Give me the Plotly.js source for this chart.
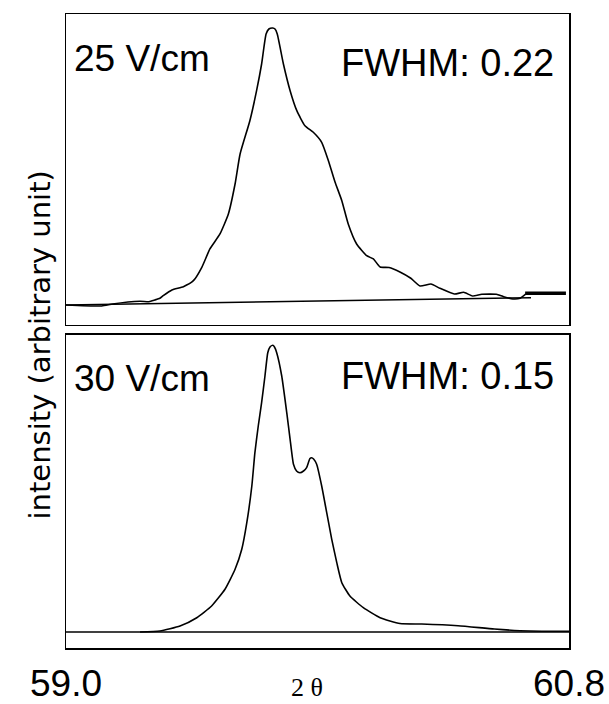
<!DOCTYPE html>
<html>
<head>
<meta charset="utf-8">
<script src="https://cdn.plot.ly/plotly-3.0.1.min.js"></script>
<style>
  html, body { margin: 0; padding: 0; background: #ffffff; }
  #chart { width: 609px; height: 704px; }
</style>
</head>
<body>
<div id="chart"></div>
<script>
// ---- data (2θ in degrees, intensity in arbitrary units) ----
var topTheta = [59.000, 59.128, 59.167, 59.265, 59.297, 59.318, 59.336, 59.348, 59.379, 59.420,
  59.456, 59.486, 59.515, 59.551, 59.581, 59.605, 59.623, 59.658, 59.682, 59.700,
  59.716, 59.726, 59.740, 59.748, 59.756, 59.778, 59.802, 59.826, 59.855, 59.885,
  59.915, 59.939, 59.963, 59.987, 60.010, 60.040, 60.076, 60.100, 60.124, 60.156,
  60.195, 60.234, 60.267, 60.306, 60.338, 60.390, 60.423, 60.455, 60.488, 60.540,
  60.566, 60.599, 60.625, 60.646];
var topIntensity = [0, -1, 1, 3.7, 3.3, 5, 6.7, 9.3, 15, 18.3,
  24.3, 37.7, 56, 71, 91, 121, 151, 184.3, 214.3, 241,
  271, 276, 277, 276, 271, 241, 214.3, 194.3, 179.3, 172.7,
  162.7, 144.3, 122.7, 104.3, 81, 61, 49.3, 46, 38, 37.5,
  33, 26.7, 19, 21, 16.7, 11, 12.7, 9, 10.7, 10.7,
  8.3, 6, 6.7, 11];
var topBaseTheta = [59.000, 60.664];
var topBaseIntensity = [0, 7.3];
var topMarkTheta = [60.643, 60.789];
var topMarkIntensity = [11.7, 11.7];

var botTheta = [59.265, 59.336, 59.408, 59.468, 59.521, 59.569, 59.605, 59.629, 59.647, 59.665,
  59.676, 59.688, 59.700, 59.712, 59.722, 59.730, 59.740, 59.746, 59.754, 59.772,
  59.790, 59.802, 59.814, 59.825, 59.837, 59.850, 59.861, 59.873, 59.879, 59.886,
  59.897, 59.915, 59.933, 59.951, 59.969, 59.987, 60.016, 60.064, 60.124, 60.195,
  60.273, 60.403, 60.533, 60.625, 60.703, 60.800];
var botIntensity = [0, 1, 6, 14.3, 26, 42.7, 62.7, 82.7, 109.3, 146,
  179.3, 206, 229.3, 256, 279.3, 285, 286.7, 285, 279.3, 256,
  219.3, 192.7, 167.7, 161, 159.3, 161, 164.3, 173.5, 174.3, 173,
  167.7, 146, 119.3, 92.7, 69.3, 49.3, 36, 24.3, 14.3, 8.5,
  8, 6.3, 3, 1.3, 0.7, 0.7];
var botBaseTheta = [59.000, 60.800];
var botBaseIntensity = [0, 0];

var xTickVals = [59.0, 60.8];
var xTickText = ['59.0', '60.8'];
var panelLabels = ['25 V/cm', '30 V/cm'];
var fwhmLabels = ['FWHM: 0.22', 'FWHM: 0.15'];

// ---- traces ----
var curveStyle = {color: '#000000', width: 1.6, shape: 'spline', smoothing: 0.5};
var traces = [
  {x: topTheta, y: topIntensity, xaxis: 'x2', yaxis: 'y2', mode: 'lines', line: curveStyle, hoverinfo: 'skip'},
  {x: topBaseTheta, y: topBaseIntensity, xaxis: 'x2', yaxis: 'y2', mode: 'lines', line: {color: '#000000', width: 1.4}, hoverinfo: 'skip'},
  {x: topMarkTheta, y: topMarkIntensity, xaxis: 'x2', yaxis: 'y2', mode: 'lines', line: {color: '#000000', width: 3.6}, hoverinfo: 'skip'},
  {x: botTheta, y: botIntensity, xaxis: 'x', yaxis: 'y', mode: 'lines', line: curveStyle, hoverinfo: 'skip'},
  {x: botBaseTheta, y: botBaseIntensity, xaxis: 'x', yaxis: 'y', mode: 'lines', line: {color: '#000000', width: 1.6}, hoverinfo: 'skip'}
];

var frame = {showline: true, mirror: true, linecolor: '#000000', linewidth: 1.5,
  showgrid: false, zeroline: false, ticks: ''};
var sans = 'Liberation Sans, Arial, Helvetica, sans-serif';

var layout = {
  width: 609, height: 704,
  margin: {l: 66, r: 40, t: 14, b: 56},
  paper_bgcolor: '#ffffff', plot_bgcolor: '#ffffff',
  showlegend: false,
  xaxis: Object.assign({}, frame, {range: [59.0, 60.8], anchor: 'y',
    tickvals: xTickVals, ticktext: xTickText, ticklabelstandoff: 2,
    tickfont: {family: sans, size: 37, color: '#000000'}}),
  xaxis2: Object.assign({}, frame, {range: [59.0, 60.8], anchor: 'y2', matches: 'x', showticklabels: false}),
  yaxis: Object.assign({}, frame, {range: [-16, 297], domain: [0, 0.4937], showticklabels: false}),
  yaxis2: Object.assign({}, frame, {range: [-20, 291], domain: [0.5095, 1], showticklabels: false}),
  annotations: [
    {text: panelLabels[0], xref: 'paper', yref: 'paper', x: 0.012, y: 0.9298, xanchor: 'left', yanchor: 'middle',
      showarrow: false, font: {family: sans, size: 37, color: '#000000'}},
    {text: fwhmLabels[0], xref: 'paper', yref: 'paper', x: 0.9734, y: 0.9227, xanchor: 'right', yanchor: 'middle',
      showarrow: false, font: {family: sans, size: 38, color: '#000000'}},
    {text: panelLabels[1], xref: 'paper', yref: 'paper', x: 0.012, y: 0.4251, xanchor: 'left', yanchor: 'middle',
      showarrow: false, font: {family: sans, size: 37, color: '#000000'}},
    {text: fwhmLabels[1], xref: 'paper', yref: 'paper', x: 0.975, y: 0.4285, xanchor: 'right', yanchor: 'middle',
      showarrow: false, font: {family: sans, size: 38, color: '#000000'}},
    {text: 'intensity (arbitrary unit)', xref: 'paper', yref: 'paper', x: -0.0527, y: 0.478,
      xanchor: 'center', yanchor: 'middle', textangle: -90, showarrow: false,
      font: {family: 'DejaVu Sans, sans-serif', size: 29, color: '#000000'}},
    {text: '2 θ', xref: 'paper', yref: 'paper', x: 0.4801, y: -0.063, xanchor: 'center', yanchor: 'middle',
      showarrow: false, font: {family: 'Liberation Serif, Times New Roman, serif', size: 26, color: '#000000'}}
  ]
};

Plotly.newPlot('chart', traces, layout, {staticPlot: true, displayModeBar: false});
</script>
</body>
</html>
